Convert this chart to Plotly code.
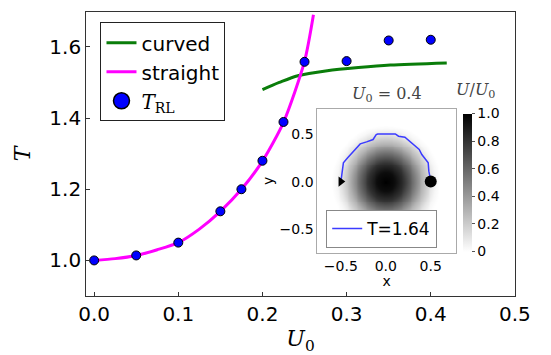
import numpy as np
import plotly.graph_objects as go

# ---------------- data ----------------
u_rl = [0.0, 0.05, 0.1, 0.15, 0.175, 0.2, 0.225, 0.25, 0.3, 0.35, 0.4]
t_rl = [1.0, 1.014, 1.05, 1.138, 1.2, 1.28, 1.389, 1.558, 1.56, 1.618, 1.62]

u_straight = [0.0, 0.025, 0.05, 0.075, 0.1, 0.125, 0.15, 0.175, 0.2, 0.225, 0.25, 0.2606]
t_straight = [1.0, 1.005, 1.014, 1.03, 1.05, 1.088, 1.138, 1.2, 1.279, 1.388, 1.559, 1.69]

u_curved = [0.2, 0.22, 0.242, 0.277, 0.314, 0.352, 0.419]
t_curved = [1.48, 1.50, 1.519, 1.533, 1.542, 1.549, 1.555]

# inset: trajectory for U0 = 0.4
path_x = [-0.497, -0.486, -0.471, -0.426, -0.354, -0.284, -0.213, -0.141, -0.106, -0.089,
          0.106, 0.142, 0.213, 0.284, 0.372, 0.401, 0.443, 0.472, 0.479, 0.497]
path_y = [0.013, 0.075, 0.198, 0.25, 0.321, 0.398, 0.419, 0.444, 0.497, 0.503,
          0.503, 0.479, 0.468, 0.408, 0.339, 0.286, 0.234, 0.198, 0.11, 0.023]
start_xy = (-0.5, 0.0)
goal_xy = (0.5, 0.0)
path_name = "T=1.64"

# radial profile of the potential U/U0 in the inset
r_profile = [0.0, 0.1, 0.2, 0.3, 0.4, 0.5, 0.55, 0.6, 1.2]
u_profile = [1.0, 0.95, 0.8, 0.56, 0.3, 0.1, 0.03, 0.0, 0.0]

x_ticks = [0.0, 0.1, 0.2, 0.3, 0.4, 0.5]
y_ticks = [1.0, 1.2, 1.4, 1.6]
inset_ticks = [-0.5, 0.0, 0.5]
cb_ticks = [0, 0.2, 0.4, 0.6, 0.8, 1.0]
cb_ticktext = ["0", "0.2", "0.4", "0.6", "0.8", "1.0"]

# ---------------- layout helpers ----------------
W, H = 551, 355
def fx(px):
    return px / W
def fy(py):
    return 1 - py / H

SANS = "DejaVu Sans"
SERIF = "DejaVu Serif"

grid = np.linspace(-0.76, 0.78, 155)
gy = np.linspace(-0.75, 0.77, 153)
XX, YY = np.meshgrid(grid, gy)
RR = np.sqrt(XX ** 2 + YY ** 2)
ZZ = np.interp(RR, r_profile, u_profile)

fig = go.Figure()

# main traces
fig.add_trace(go.Scatter(x=u_curved, y=t_curved, mode="lines", name="curved",
                         line=dict(color="#0a7d0a", width=3, shape="spline", smoothing=0.8),
                         xaxis="x", yaxis="y", legend="legend"))
fig.add_trace(go.Scatter(x=u_straight, y=t_straight, mode="lines", name="straight",
                         line=dict(color="#ff00ff", width=3, shape="spline", smoothing=0.7),
                         xaxis="x", yaxis="y", legend="legend"))
fig.add_trace(go.Scatter(x=u_rl, y=t_rl, mode="markers", showlegend=False,
                         marker=dict(color="#0000ff", size=9, line=dict(color="black", width=1)),
                         xaxis="x", yaxis="y"))
fig.add_trace(go.Scatter(x=[None], y=[None], mode="markers",
                         name="<span style=\"font-family:'DejaVu Serif'\"><i>T</i><sub>RL</sub></span>",
                         marker=dict(color="#0000ff", size=20, line=dict(color="black", width=1.5)),
                         xaxis="x", yaxis="y", legend="legend"))

# inset traces
fig.add_trace(go.Heatmap(x=grid, y=gy, z=ZZ, xaxis="x2", yaxis="y2",
                         colorscale=[[0, "#ffffff"], [1, "#000000"]], zmin=0, zmax=1,
                         zsmooth="best", showscale=True,
                         colorbar=dict(x=fx(475.7), xanchor="left", thickness=8.6,
                                       len=(251.7 - 113.3) / H, lenmode="fraction",
                                       y=fy(182.5), yanchor="middle", xpad=0, ypad=0,
                                       tickvals=cb_ticks, ticktext=cb_ticktext,
                                       ticks="outside", ticklen=3, tickcolor="#555",
                                       tickfont=dict(family=SANS, size=14, color="black"),
                                       outlinewidth=0)))
fig.add_trace(go.Scatter(x=path_x, y=path_y, mode="lines", name=path_name,
                         line=dict(color="#3b3bff", width=1.5),
                         xaxis="x2", yaxis="y2", legend="legend2"))
fig.add_trace(go.Scatter(x=[start_xy[0]], y=[start_xy[1]], mode="markers", showlegend=False,
                         marker=dict(symbol="triangle-right", color="black", size=9),
                         xaxis="x2", yaxis="y2"))
fig.add_trace(go.Scatter(x=[goal_xy[0]], y=[goal_xy[1]], mode="markers", showlegend=False,
                         marker=dict(symbol="circle", color="black", size=12),
                         xaxis="x2", yaxis="y2"))

axis_common = dict(showgrid=False, zeroline=False, showline=True, mirror=True)

fig.update_layout(
    width=W, height=H,
    margin=dict(l=0, r=0, t=0, b=0),
    paper_bgcolor="white", plot_bgcolor="white",
    font=dict(family=SANS, color="black"),
    xaxis=dict(domain=[fx(81.7), fx(530)], range=[-0.0095, 0.5], anchor="y",
               tickvals=x_ticks, tickformat=".1f", ticks="inside", ticklen=4,
               tickcolor="#333", linecolor="#333", linewidth=1,
               tickfont=dict(family=SANS, size=20),
               title=dict(text="<i>U</i><sub>0</sub>", font=dict(family=SERIF, size=22), standoff=6),
               **axis_common),
    yaxis=dict(domain=[fy(296), fy(12)], range=[0.9, 1.698], anchor="x",
               tickvals=y_ticks, tickformat=".1f", ticks="inside", ticklen=4,
               tickcolor="#333", linecolor="#333", linewidth=1,
               tickfont=dict(family=SANS, size=20),
               title=dict(text="<i>T</i>", font=dict(family=SERIF, size=22), standoff=12),
               **axis_common),
    xaxis2=dict(domain=[fx(323.5), fx(468.3)], range=[-0.76, 0.78], anchor="y2",
                tickvals=inset_ticks, tickformat=".1f", ticks="",
                linecolor="#aaaaaa", linewidth=1,
                tickfont=dict(family=SANS, size=14),
                title=dict(text="x", font=dict(family=SANS, size=14), standoff=2),
                **axis_common),
    yaxis2=dict(domain=[fy(252.7), fy(109)], range=[-0.75, 0.766], anchor="x2",
                tickvals=inset_ticks, tickformat=".1f", ticks="",
                linecolor="#aaaaaa", linewidth=1,
                tickfont=dict(family=SANS, size=14),
                title=dict(text="y", font=dict(family=SANS, size=14), standoff=2),
                **axis_common),
    legend=dict(x=fx(96.7), y=fy(22.3), xanchor="left", yanchor="top",
                bgcolor="white", bordercolor="#222", borderwidth=1,
                font=dict(family=SANS, size=20), itemwidth=30, tracegroupgap=0),
    legend2=dict(x=fx(332.7), y=fy(210), xanchor="left", yanchor="top",
                 bgcolor="white", bordercolor="#888", borderwidth=1,
                 font=dict(family=SANS, size=17), itemwidth=30),
    annotations=[
        dict(text="<i>U</i><sub>0</sub> = 0.4", x=fx(396.7), y=fy(95), xref="paper", yref="paper",
             showarrow=False, xanchor="center", yanchor="middle",
             font=dict(family=SERIF, size=16, color="#444")),
        dict(text="<i>U</i>/<i>U</i><sub>0</sub>", x=fx(489), y=fy(90), xref="paper", yref="paper",
             showarrow=False, xanchor="center", yanchor="middle",
             font=dict(family=SERIF, size=16, color="#444")),
    ],
)

fig.write_html("out.html")
